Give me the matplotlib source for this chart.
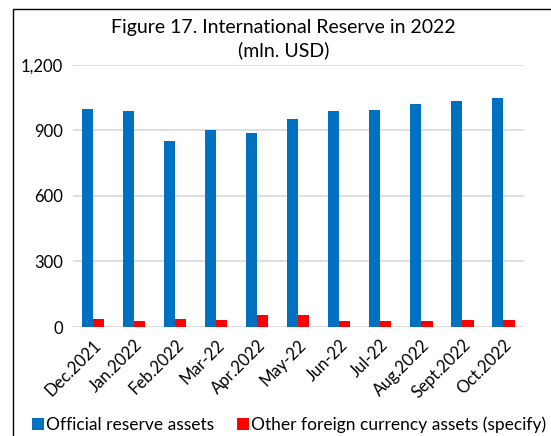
import matplotlib.pyplot as plt
from matplotlib.patches import Rectangle
import numpy as np

plt.rcParams['font.family'] = ['Lato', 'DejaVu Sans']

# data
months = ["Dec.2021", "Jan.2022", "Feb.2022", "Mar-22", "Apr.2022", "May-22",
          "Jun-22", "Jul-22", "Aug.2022", "Sept.2022", "Oct.2022"]
official = [997, 991, 852, 902, 890, 954, 987, 996, 1021, 1035, 1049]
other_fx = [35, 29, 35, 31, 56, 54, 29, 28, 28, 32, 32]

fig = plt.figure(figsize=(5.51, 4.36), dpi=100)
ax = fig.add_axes([0.132, 0.25, 0.819, 0.601])

x = np.arange(len(months))
w = 0.27
ax.bar(x - w / 2, official, width=w, color="#0070C0", label="Official reserve assets")
ax.bar(x + w / 2, other_fx, width=w, color="#FF0000",
       label="Other foreign currency assets (specify)")

ax.set_xlim(-0.5, len(months) - 0.5)
ax.set_ylim(0, 1200)
ax.set_yticks([0, 300, 600, 900, 1200])
ax.set_yticklabels(["0", "300", "600", "900", "1,200"], fontsize=12)
ax.set_xticks(x)
ax.set_xticklabels(months, rotation=45, ha="right", rotation_mode="anchor", fontsize=12)
ax.tick_params(length=0, pad=7)
ax.yaxis.grid(True, color="#D9D9D9", linewidth=1.2)
ax.set_axisbelow(True)
for s in ax.spines.values():
    s.set_visible(False)

fig.text(0.515, 0.938, "Figure 17. International Reserve in 2022",
         ha="center", va="center", fontsize=14)
fig.text(0.515, 0.885, "(mln. USD)", ha="center", va="center", fontsize=14)

ax.legend(loc="center", bbox_to_anchor=(0.479, -0.374), ncol=2, frameon=False,
          fontsize=12.5, handlelength=0.7, handleheight=0.7, handletextpad=0.1,
          columnspacing=1.3, borderpad=0)

# outer chart frame
fig.patches.append(Rectangle((0.0236, -0.1), 1.2, 1.079, transform=fig.transFigure,
                             fill=False, edgecolor="black", linewidth=1.0))

plt.savefig("out.png", dpi=100)
